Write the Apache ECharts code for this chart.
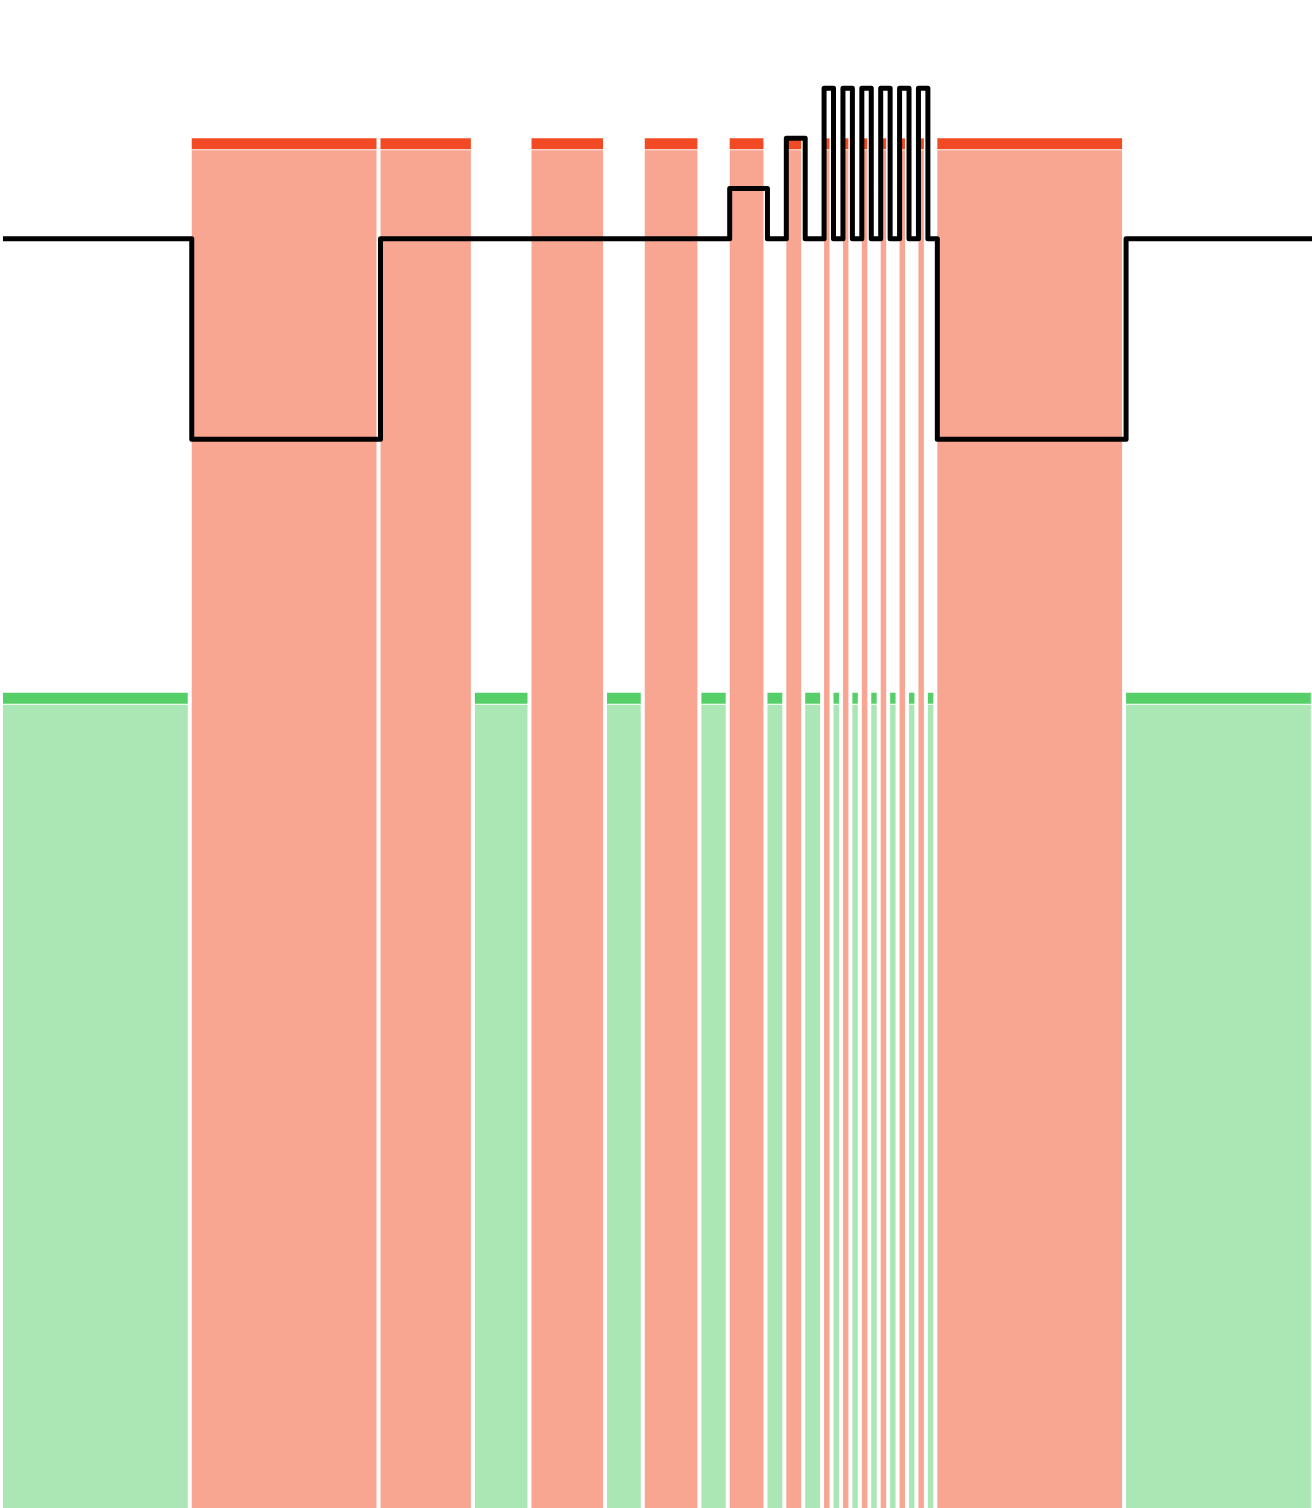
<!DOCTYPE html>
<html>
<head>
<meta charset="utf-8">
<title>Bands and step level</title>
<script src="https://cdn.jsdelivr.net/npm/echarts@6/dist/echarts.min.js"></script>
<style>
  html, body { margin: 0; padding: 0; background: #fff; }
  #chart { width: 1312px; height: 1508px; }
</style>
</head>
<body>
<div id="chart"></div>
<script>
// Band boundaries along the x axis (time units) and what each band is.
const bandEdges = [0, 20, 40, 50, 56, 64, 68, 74, 77, 81, 83, 85, 87, 88, 89, 90, 91, 92,
  93, 94, 95, 96, 97, 98, 99, 119, 139];
const bandKinds = ['ok', 'fail', 'fail', 'ok', 'fail', 'ok', 'fail', 'ok', 'fail', 'ok', 'fail', 'ok',
  'fail', 'ok', 'fail', 'ok', 'fail', 'ok', 'fail', 'ok', 'fail', 'ok', 'fail', 'ok',
  'fail', 'ok'];
// Top of each band kind on the y scale
const failTop = 2;
const okTop = -9.05;

// Step line: value holds from each x until the next point
const levelX = [0, 20, 40, 77, 81, 83, 85, 87, 88, 89, 90, 91, 92, 93, 94, 95, 96, 97, 98, 99, 119, 139];
const levelY = [0, -4, 0, 1, 0, 2, 0, 3, 0, 3, 0, 3, 0, 3, 0, 3, 0, 3, 0, -4, 0, 0];

const colors = {
  fail: { strong: '#F14A24', light: '#F8A592' },
  ok: { strong: '#56CF69', light: '#ABE7B4' }
};

const bandData = bandKinds.map((k, i) => [bandEdges[i], bandEdges[i + 1], k === 'fail' ? failTop : okTop]);
const lineData = levelX.map((x, i) => [x, levelY[i]]);

const chart = echarts.init(document.getElementById('chart'));
chart.setOption({
  animation: false,
  grid: { left: 3, right: 0, top: 38, bottom: 0 },
  // the last band runs slightly past the right edge of the picture
  xAxis: { type: 'value', min: 0, max: 138.7, show: false },
  yAxis: { type: 'value', min: -25.3, max: 4, show: false },
  series: [
    {
      type: 'custom',
      data: bandData,
      encode: { x: [0, 1], y: 2 },
      clip: true,
      renderItem(params, api) {
        const c = colors[bandKinds[params.dataIndex]];
        const x0 = api.coord([api.value(0), 0])[0];
        const x1 = api.coord([api.value(1), 0])[0] - 4;
        const top = api.coord([0, api.value(2)])[1];
        const bottom = params.coordSys.y + params.coordSys.height;
        const w = Math.max(x1 - x0, 0);
        return {
          type: 'group',
          children: [
            { type: 'rect', shape: { x: x0, y: top, width: w, height: 11 }, style: { fill: c.strong } },
            { type: 'rect', shape: { x: x0, y: top + 12, width: w, height: bottom - top - 12 }, style: { fill: c.light } }
          ]
        };
      },
      z: 1
    },
    {
      type: 'line',
      data: lineData,
      step: 'end',
      symbol: 'none',
      clip: false,
      lineStyle: { color: '#000', width: 5, join: 'round' },
      z: 3
    }
  ]
});
</script>
</body>
</html>
